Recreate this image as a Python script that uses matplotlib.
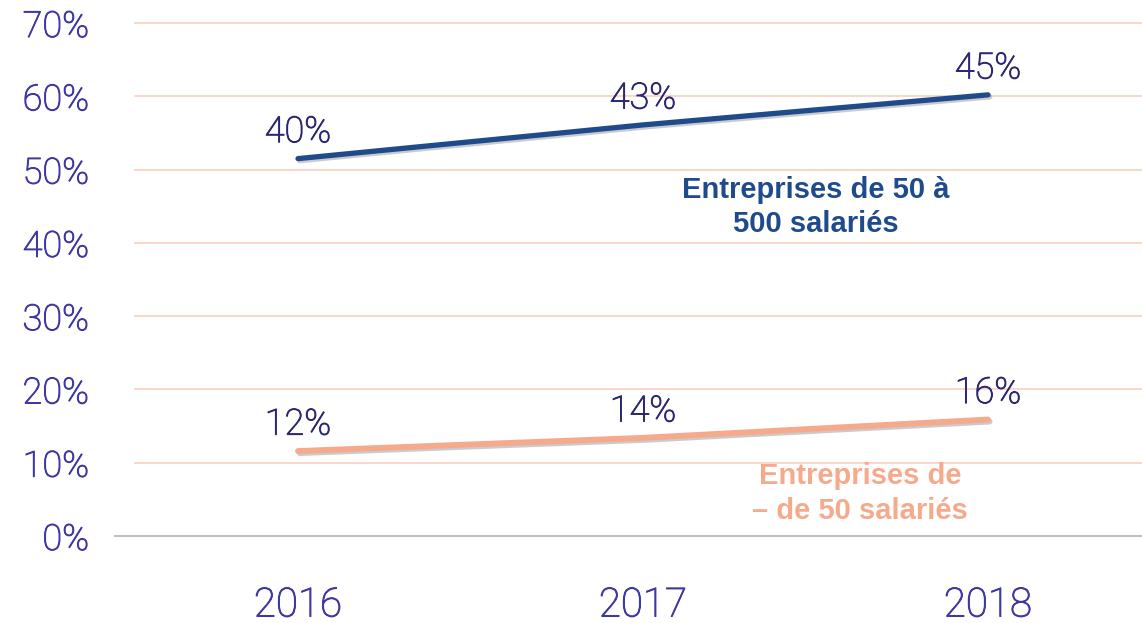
import numpy as np
import matplotlib
matplotlib.use("Agg")
import matplotlib.pyplot as plt
import matplotlib.patheffects as pe

# values as drawn on the chart (labels show the printed figures)
years = ["2016", "2017", "2018"]
big_values = [51.5, 56.1, 60.2]
big_labels = ["40%", "43%", "45%"]
small_values = [11.6, 13.4, 15.9]
small_labels = ["12%", "14%", "16%"]
yticks = [0, 10, 20, 30, 40, 50, 60, 70]

blue = "#1F4B8C"
salmon = "#F6AA8C"
tick_color = "#3F37A2"
label_color = "#2B2870"
grid_color = "#FAD0C0"

plt.rcParams['font.family'] = ['Roboto', 'DejaVu Sans']


def thicken(color):
    # light weight is a touch too thin, add a fine outline in the same colour
    return [pe.withStroke(linewidth=0.7, foreground=color)]


fig = plt.figure(figsize=(11.42, 6.23), dpi=100)
ax = fig.add_axes([0.1182, 0.1396, 0.8818, 0.8234])

x = np.arange(len(years))
shadow = [pe.SimpleLineShadow(offset=(1.2, -1.5), shadow_color="#333333", alpha=0.25),
          pe.Normal()]
ax.plot(x, big_values, color=blue, lw=3.8, solid_capstyle="round", path_effects=shadow, zorder=3)
ax.plot(x, small_values, color=salmon, lw=4.2, solid_capstyle="round", path_effects=shadow, zorder=3)

for xi, v, lab in zip(x, big_values, big_labels):
    ax.annotate(lab, (xi, v), xytext=(0, 19), textcoords="offset points",
                ha="center", va="center", fontsize=26, fontweight="light", color=label_color,
                path_effects=thicken(label_color))
for xi, v, lab in zip(x, small_values, small_labels):
    ax.annotate(lab, (xi, v), xytext=(0, 19), textcoords="offset points",
                ha="center", va="center", fontsize=26, fontweight="light", color=label_color,
                path_effects=thicken(label_color))

ax.text(1.5, 44.9, "Entreprises de 50 à\n500 salariés", ha="center", va="center",
        fontsize=21, fontweight="bold", color=blue, linespacing=1.3,
        family=["Liberation Sans", "DejaVu Sans"])
ax.text(1.63, 5.8, "Entreprises de\n– de 50 salariés", ha="center", va="center",
        fontsize=21, fontweight="bold", color=salmon, linespacing=1.3,
        family=["Liberation Sans", "DejaVu Sans"])

ax.set_xlim(-0.4725, 2.4464)
ax.set_ylim(0, 70)
ax.set_yticks(yticks)
ax.set_yticklabels([f"{t}%" for t in yticks])
ax.set_xticks(x)
ax.set_xticklabels(years)

for t in ax.get_yticklabels():
    t.set_fontsize(26)
    t.set_fontweight("light")
    t.set_color(tick_color)
    t.set_path_effects(thicken(tick_color))
for t in ax.get_xticklabels():
    t.set_fontsize(29)
    t.set_fontweight("light")
    t.set_color(tick_color)
    t.set_path_effects(thicken(tick_color))

ax.tick_params(axis="y", length=0, pad=33)
ax.tick_params(axis="x", length=0, pad=36)

ax.grid(axis="y", color=grid_color, lw=1.2)
ax.yaxis.get_gridlines()[0].set_visible(False)
for g in ax.yaxis.get_gridlines():
    g.set_clip_on(False)
ax.set_axisbelow(True)
for s in ax.spines.values():
    s.set_visible(False)
ax.axhline(0, xmin=-0.02, xmax=1, color="#BFBFBF", lw=1.5, clip_on=False, zorder=2)

fig.savefig("out.png", dpi=100)
